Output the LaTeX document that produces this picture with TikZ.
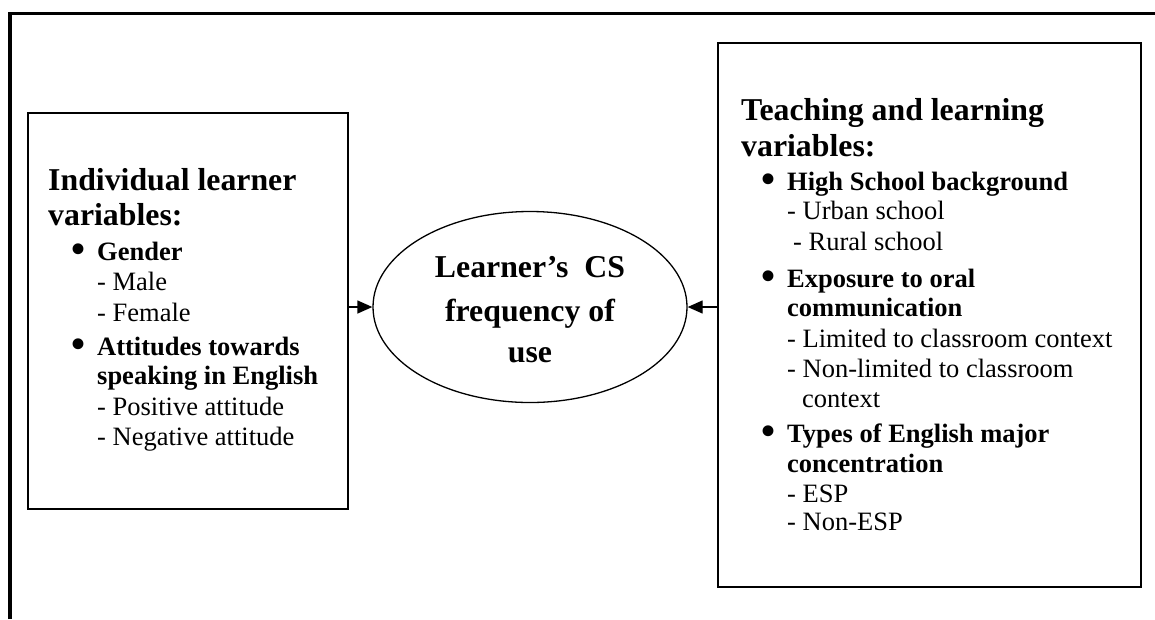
\documentclass[tikz,border=0pt]{standalone}
\usepackage{fontspec}
\setmainfont{Liberation Serif}
\usetikzlibrary{arrows.meta,shapes.geometric}
\newcommand{\mybul}{\llap{\raisebox{-2pt}{\fontsize{40}{40}\selectfont •}\hspace{12pt}}}
\tikzset{
  x=1pt,y=-1pt,
  frame/.style={line width=3.5pt},
  boxnode/.style={draw,line width=1.5pt,rectangle,inner sep=0pt},
  ellnode/.style={draw,line width=1.3pt,ellipse,inner sep=0pt},
  head/.style={anchor=base west,inner sep=0pt,font=\fontsize{31.8}{36}\selectfont\bfseries},
  ehead/.style={anchor=base,inner sep=0pt,font=\fontsize{31.8}{36}\selectfont\bfseries},
  item/.style={anchor=base west,inner sep=0pt,font=\fontsize{26.5}{30}\selectfont\bfseries},
  sub/.style={anchor=base west,inner sep=0pt,font=\fontsize{26.5}{30}\selectfont},
  arr/.style={line width=1.3pt,-{Triangle[length=15pt,width=13pt]}}
}
\begin{document}
\begin{tikzpicture}
\useasboundingbox (0,0) rectangle (1155,619);
% outer frame (top and left only)
\coordinate (fbl) at (10,619);
\coordinate (ftl) at (10,13.5);
\coordinate (ftr) at (1155,13.5);
\draw[frame] (fbl) -- (ftl) -- (ftr);

% boxes
\node[boxnode,minimum width=320pt,minimum height=396pt] (lbox) at (188,311) {};
\node[boxnode,minimum width=423pt,minimum height=544pt] (rbox) at (929.5,315) {};
\node[ellnode,minimum width=314pt,minimum height=191pt] (ell) at (530,307) {};

% ellipse text
\node[ehead] (e1) at (530,277) {Learner’s\ \ CS};
\node[ehead] (e2) at (530,321) {frequency of};
\node[ehead] (e3) at (530,362) {use};

% left box text
\node[head] (l1) at (48,190) {Individual learner};
\node[head] (l2) at (48,225) {variables:};
\node[item] (l3) at (97,260) {\mybul Gender};
\node[sub] (l4) at (97,290) {- Male};
\node[sub] (l5) at (97,321) {- Female};
\node[item] (l6) at (97,355) {\mybul Attitudes towards};
\node[item] (l7) at (97,384) {speaking in English};
\node[sub] (l8) at (97,415) {- Positive attitude};
\node[sub] (l9) at (97,445) {- Negative attitude};

% right box text
\node[head] (r1) at (741,120) {Teaching and learning};
\node[head] (r2) at (741,156) {variables:};
\node[item] (r3) at (787,190) {\mybul High School background};
\node[sub] (r4) at (787,219) {- Urban school};
\node[sub] (r5) at (793,250) {- Rural school};
\node[item] (r6) at (787,287) {\mybul Exposure to oral};
\node[item] (r7) at (787,316) {communication};
\node[sub] (r8) at (787,347) {- Limited to classroom context};
\node[sub] (r9) at (787,377) {- Non-limited to classroom};
\node[sub] (r10) at (802,407) {context};
\node[item] (r11) at (787,442) {\mybul Types of English major};
\node[item] (r12) at (787,472) {concentration};
\node[sub] (r13) at (787,502) {- ESP};
\node[sub] (r14) at (787,530) {- Non-ESP};

% connectors
\draw[arr] (lbox.east |- ell.west) -- (ell.west);
\draw[arr] (rbox.west |- ell.east) -- (ell.east);
\end{tikzpicture}
\end{document}
